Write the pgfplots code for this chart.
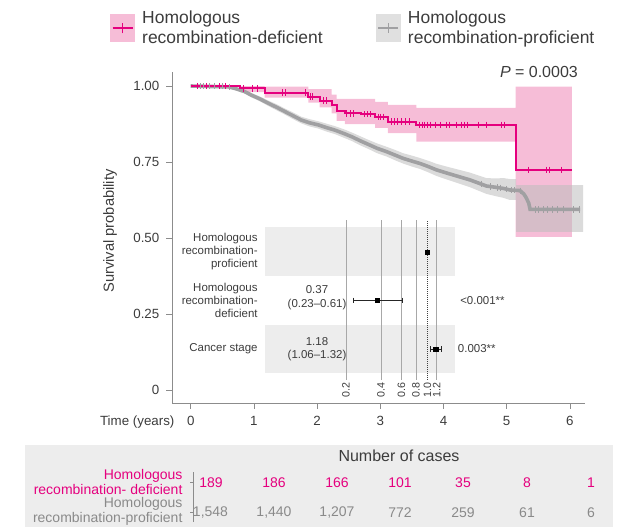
\documentclass[border=0pt]{standalone}
\usepackage{pgfplots}
\pgfplotsset{compat=1.18}
\usepackage{fontspec}
\setmainfont{Liberation Sans}
\definecolor{hrd}{HTML}{E5007E}
\definecolor{hrdband}{HTML}{F6BDD7}
\definecolor{hrp}{HTML}{A0A0A2}
\definecolor{hrpband}{HTML}{BDBDBD}
\definecolor{txt}{HTML}{3C3C3C}
\definecolor{axisgray}{HTML}{8C8C8C}
\definecolor{panel}{HTML}{EDEDED}
\definecolor{gridgray}{HTML}{A8A8A8}
\definecolor{numgray}{HTML}{8A8A8A}

\pgfplotstableread{
t S
0 1
0.6 0.997
0.7 0.992
0.85 0.982
0.96 0.97
1.1 0.957
1.23 0.943
1.36 0.93
1.49 0.916
1.62 0.902
1.75 0.888
1.88 0.879
2.02 0.872
2.15 0.863
2.28 0.855
2.42 0.844
2.55 0.833
2.68 0.82
2.81 0.808
2.95 0.795
3.1 0.784
3.23 0.773
3.36 0.762
3.5 0.753
3.63 0.745
3.76 0.735
3.89 0.724
4.03 0.715
4.16 0.707
4.29 0.699
4.42 0.691
4.55 0.681
4.68 0.671
4.82 0.667
4.95 0.663
5.05 0.658
5.21 0.656
5.27 0.645
5.31 0.632
5.35 0.614
5.37 0.594
6.16 0.594
}\hrpdata

\pgfplotstableread{
x y label
211 44.3 189
274 44.3 186
337 44.3 166
400 44.3 101
463 44.3 35
527 44.3 8
591 44.3 1
}\riskhrd

\pgfplotstableread{
x y label
210.5 14.3 1,548
274 14.3 1,440
337 14.3 1,207
400 14.3 772
463 14.3 259
527 14.3 61
591 14.3 6
}\riskhrp

\begin{document}
\begin{tikzpicture}
\path[use as bounding box] (0,0) rectangle (471pt,395.25pt);

% ---------------- Kaplan-Meier panel ----------------
\begin{axis}[
  at={(129pt,93pt)}, anchor=south west,
  scale only axis, width=309.75pt, height=248.25pt,
  xmin=-0.296, xmax=6.239, ymin=-0.0428, ymax=1.0461,
  axis lines=left, axis line style={-, axisgray, line width=0.6pt},
  xtick={0,1,2,3,4,5,6}, xticklabels={0,1,2,3,4,5,6},
  ytick={0,0.25,0.5,0.75,1}, yticklabels={0,0.25,0.50,0.75,1.00},
  tick align=outside, major tick length=4.5pt,
  tick style={axisgray, line width=0.6pt},
  xticklabel style={font=\fontsize{10}{12}\selectfont, text=txt, yshift=-2pt},
  yticklabel style={font=\fontsize{10}{12}\selectfont, text=txt, xshift=-1.5pt},
  xlabel={Time (years)}, ylabel={Survival probability},
  xlabel style={font=\fontsize{10}{12}\selectfont, text=txt, at={(axis description cs:0,0)}, anchor=east, inner sep=0pt, xshift=2pt, yshift=-14pt},
  ylabel style={font=\fontsize{11}{13}\selectfont, text=txt, at={(axis description cs:-0.15,0.52)}, anchor=center},
  clip=false,
  legend style={at={(axis description cs:-0.150,1.193)}, anchor=north west, draw=none, fill=none, inner sep=0pt,
    font=\fontsize{13.1}{14.5}\selectfont, text=txt, cells={anchor=west, align=left},
    /tikz/every odd column/.append style={column sep=3.5pt},
    /tikz/every even column/.append style={column sep=38pt}},
  legend columns=2,
]
% pink CI band
\addplot[fill=hrdband, draw=none, forget plot] coordinates {
(0,1)(1.17,1)(1.17,.998)(1.86,.998)(1.86,.99)(2.23,.99)(2.23,.972)(2.31,.972)(2.31,.958)(2.92,.958)(2.92,.948)(3.12,.948)(3.12,.938)(3.57,.938)(3.57,.928)(5.14,.928)(5.14,.998)(6.03,.998)
(6.03,.504)(5.14,.504)(5.14,.817)(3.57,.817)(3.57,.845)(3.12,.845)(3.12,.862)(2.92,.862)(2.92,.875)(2.44,.875)(2.44,.885)(2.31,.885)(2.31,.91)(2.23,.91)(2.23,.93)(2.04,.93)(2.04,.945)(1.86,.945)(1.86,.962)(1.17,.962)(1.17,.98)(0.78,.98)(0.78,1)(0,1)} --cycle;
% gray CI band
\addplot[fill=hrpband, fill opacity=0.55, draw=none, forget plot] coordinates {
(0,1)(0.6,1)(0.7,.997)(0.85,.988)(0.96,.977)(1.1,.965)(1.23,.952)(1.36,.94)(1.49,.926)(1.62,.913)(1.75,.899)(1.88,.891)(2.02,.884)(2.15,.876)(2.28,.868)(2.42,.858)(2.55,.847)(2.68,.835)(2.81,.823)(2.95,.811)(3.1,.8)(3.23,.79)(3.36,.779)(3.5,.771)(3.63,.763)(3.76,.754)(3.89,.744)(4.03,.736)(4.16,.729)(4.29,.722)(4.42,.715)(4.55,.706)(4.68,.697)(4.82,.696)(4.95,.697)(5.05,.694)(5.15,.694)(5.15,.674)(6.21,.674)
(6.21,.52)(5.15,.52)(5.15,.625)(5.05,.625)(4.95,.632)(4.82,.638)(4.68,.645)(4.55,.656)(4.42,.667)(4.29,.676)(4.16,.685)(4.03,.694)(3.89,.704)(3.76,.716)(3.63,.727)(3.5,.735)(3.36,.745)(3.23,.756)(3.1,.768)(2.95,.779)(2.81,.793)(2.68,.805)(2.55,.819)(2.42,.83)(2.28,.842)(2.15,.85)(2.02,.86)(1.88,.867)(1.75,.877)(1.62,.891)(1.49,.906)(1.36,.92)(1.23,.934)(1.1,.949)(0.96,.963)(0.85,.976)(0.7,.987)(0.6,.994)(0,1)} --cycle;
% gray curve
\addplot[hrp, line width=2.7pt, forget plot] table[x=t, y=S] {\hrpdata};
\addplot[hrp, only marks, mark=|, mark size=2.4pt, mark options={line width=0.8pt}, forget plot] coordinates {
(0.15,1)(0.2,1)(0.3,1)(0.38,1)(0.45,1)(0.5,1)(0.62,0.997)
(4.6,0.678)(4.75,0.67)(4.85,0.666)(4.9,0.665)(5.0,0.661)(5.08,0.658)(5.12,0.657)(5.22,0.655)
(5.45,0.594)(5.5,0.594)(5.58,0.594)(5.65,0.594)(5.72,0.594)(5.8,0.594)(5.9,0.594)(6.05,0.594)(6.15,0.594)};
% pink curve
\addplot[hrd, line width=1.5pt, const plot, forget plot] coordinates {(0,1)(0.78,0.992)(1.17,0.978)(1.86,0.965)(2.04,0.952)(2.23,0.9375)(2.31,0.919)(2.44,0.91)(2.7,0.907)(2.92,0.899)(3.12,0.883)(3.57,0.872)(5.14,0.724)(6.03,0.724)};
\addplot[hrd, only marks, mark=|, mark size=2.4pt, mark options={line width=0.7pt}, forget plot] coordinates {
(0.1,1)(0.25,1)(0.45,1)(0.55,1)(0.83,0.992)(0.98,0.992)(1.05,0.992)(1.45,0.978)(1.5,0.978)(1.82,0.978)(1.89,0.965)(1.93,0.965)(2.1,0.952)(2.15,0.952)(2.47,0.91)(2.52,0.91)(2.58,0.91)(2.75,0.907)(2.8,0.907)(2.85,0.907)(2.97,0.899)(3.0,0.899)(3.05,0.899)(3.17,0.883)(3.22,0.883)(3.27,0.883)(3.33,0.883)(3.4,0.883)(3.46,0.883)(3.62,0.872)(3.66,0.872)(3.7,0.872)(3.75,0.872)(3.8,0.872)(3.88,0.872)(3.95,0.872)(4.05,0.872)(4.1,0.872)(4.2,0.872)(4.28,0.872)(4.33,0.872)(4.38,0.872)(4.55,0.872)(4.68,0.872)(4.92,0.872)(4.96,0.872)(5.35,0.724)(5.63,0.724)(5.68,0.724)(5.86,0.724)};
% P value
\node[anchor=east, font=\fontsize{12}{14}\selectfont, text=txt, inner sep=0pt] at (axis cs:6.13,1.046) {\textit{P} = 0.0003};
% legend
\addlegendimage{legend image code/.code={\fill[hrdband] (0pt,-10pt) rectangle (18pt,10pt); \draw[hrd, line width=1.5pt] (1.5pt,0pt) -- (16.5pt,0pt); \draw[hrd, line width=0.8pt] (9pt,-4pt) -- (9pt,4pt);}}
\addlegendentry{Homologous\\recombination-deficient}
\addlegendimage{legend image code/.code={\fill[black!12] (0pt,-10pt) rectangle (18pt,10pt); \draw[hrp, line width=1.3pt] (1.5pt,0pt) -- (16.5pt,0pt); \draw[hrp, line width=0.8pt] (9pt,-3.5pt) -- (9pt,3.5pt);}}
\addlegendentry{Homologous\\recombination-proficient}
\end{axis}

% ---------------- Forest inset ----------------
\begin{axis}[
  at={(198.75pt,110.25pt)}, anchor=south west,
  scale only axis, width=142.5pt, height=120pt,
  xmode=log, xmin=0.0402, xmax=1.73, ymin=0.36, ymax=3.66,
  axis line style={draw=none}, major tick length=0pt, xminorticks=false, yminorticks=false,
  xtick={0.2,0.4,0.6,0.8,1,1.2}, xticklabels={0.2,0.4,0.6,0.8,1.0,1.2},
  xticklabel style={rotate=90, anchor=east, font=\fontsize{8}{9}\selectfont, text=txt, inner sep=1.5pt},
  ytick={1,2,3},
  yticklabels={Cancer stage,{Homologous\\recombination-\\deficient},{Homologous\\recombination-\\proficient}},
  yticklabel style={align=right, font=\fontsize{8.6}{9.75}\selectfont, text=txt, xshift=-2pt},
  clip=false,
]
\addplot[fill=panel, draw=none] coordinates {(0.0402,2.505)(1.73,2.505)(1.73,3.515)(0.0402,3.515)} --cycle;
\addplot[fill=panel, draw=none] coordinates {(0.0402,0.505)(1.73,0.505)(1.73,1.495)(0.0402,1.495)} --cycle;
\addplot[gridgray, line width=0.5pt] coordinates {(0.2,0.36)(0.2,3.66)};
\addplot[gridgray, line width=0.5pt] coordinates {(0.4,0.36)(0.4,3.66)};
\addplot[gridgray, line width=0.5pt] coordinates {(0.6,0.36)(0.6,3.66)};
\addplot[gridgray, line width=0.5pt] coordinates {(0.8,0.36)(0.8,3.66)};
\addplot[gridgray, line width=0.5pt] coordinates {(1.2,0.36)(1.2,3.66)};
\addplot[black!75, densely dotted, line width=0.5pt] coordinates {(1,0.36)(1,3.66)};
\addplot[black!85, line width=0.5pt, mark=|, mark size=2.2pt, mark options={solid}] coordinates {(0.23,2)(0.61,2)};
\addplot[black!85, line width=0.5pt, mark=|, mark size=2.2pt, mark options={solid}] coordinates {(1.06,1)(1.32,1)};
\addplot[black, only marks, mark=square*, mark size=1.6pt] coordinates {(1,3)(0.37,2)(1.18,1)};
\node[align=center, font=\fontsize{8.6}{10}\selectfont, text=txt, yshift=2pt] at (axis cs:0.1126,2) {0.37\\(0.23–0.61)};
\node[align=center, font=\fontsize{8.6}{10}\selectfont, text=txt] at (axis cs:0.1126,1) {1.18\\(1.06–1.32)};
\node[anchor=west, font=\fontsize{8.6}{10}\selectfont, text=txt, inner sep=0pt, xshift=3.75pt] at (axis cs:1.73,2) {<0.001**};
\node[anchor=west, font=\fontsize{8.6}{10}\selectfont, text=txt, inner sep=0pt, xshift=2pt] at (axis cs:1.73,1) {0.003**};
\end{axis}

% ---------------- Risk table ----------------
\begin{axis}[
  at={(18.75pt,0pt)}, anchor=south west,
  scale only axis, width=441pt, height=61.5pt,
  xmin=25, xmax=613, ymin=0, ymax=82,
  hide axis, clip=false,
]
\addplot[fill=panel, draw=none] coordinates {(25,0)(613,0)(613,82)(25,82)} --cycle;
\addplot[axisgray, line width=0.6pt] coordinates {(193,5)(193,55)};
\addplot[axisgray, line width=0.6pt] coordinates {(190,44.3)(193,44.3)};
\addplot[axisgray, line width=0.6pt] coordinates {(190,14.3)(193,14.3)};
\addplot[draw=none, mark=none, nodes near coords, point meta=explicit symbolic,
  nodes near coords align=center,
  every node near coord/.append style={text=hrd, font=\fontsize{10.5}{12}\selectfont, anchor=center}]
  table[x=x, y=y, meta=label] {\riskhrd};
\addplot[draw=none, mark=none, nodes near coords, point meta=explicit symbolic,
  nodes near coords align=center,
  every node near coord/.append style={text=numgray, font=\fontsize{10.5}{12}\selectfont, anchor=center}]
  table[x=x, y=y, meta=label] {\riskhrp};
\node[font=\fontsize{12}{14}\selectfont, text=txt] at (axis cs:399,71) {Number of cases};
\node[anchor=east, align=right, text=hrd, font=\fontsize{10.5}{10.9}\selectfont, inner sep=0pt] at (axis cs:182.7,45) {Homologous\\recombination- deficient};
\node[anchor=east, align=right, text=numgray, font=\fontsize{10.5}{10.9}\selectfont, inner sep=0pt] at (axis cs:182.7,15.5) {Homologous\\recombination-proficient};
\end{axis}
\end{tikzpicture}
\end{document}
